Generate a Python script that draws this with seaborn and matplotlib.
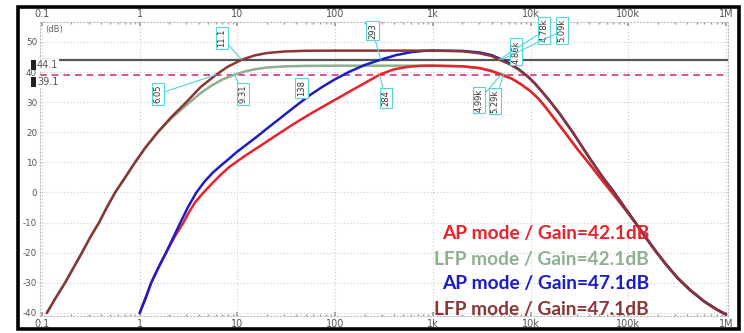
import numpy as np
import pandas as pd
import matplotlib
matplotlib.use("Agg")
import matplotlib.pyplot as plt
import matplotlib.patches as mpatches
import seaborn as sns

# ---------------- data ----------------
lfp47_f = [0.112, 0.138, 0.172, 0.21, 0.256, 0.31, 0.383, 0.46, 0.56, 0.71, 0.895, 1.15, 1.53, 2.1, 3.0, 4.2,
           6.05, 8.0, 11.1, 15, 20, 30, 50, 100, 1000, 2000, 3000, 4000, 4780, 6000, 7500, 9300, 11000, 13000,
           15900, 20000, 27000, 34000, 43000, 55000, 72000, 92000, 118000, 150000, 190000, 245000, 320000,
           430000, 600000, 800000, 1000000]
lfp47_db = [-40, -35, -30, -25, -20, -15, -10, -5, 0, 5, 10, 15, 20, 25, 30, 35,
            39.1, 41.8, 44.1, 45.5, 46.3, 46.8, 47.05, 47.1, 47.1, 46.9, 46.2, 45.3, 44.1, 42.7, 40.9, 38.6, 36.3, 33.6,
            30.2, 26.0, 20.0, 15.0, 10.0, 5.0, 0.0, -5.0, -10.0, -14.8, -19.4, -24.0, -28.4,
            -32.4, -36.2, -38.8, -40.5]

lfp42_f = [0.112, 0.138, 0.172, 0.21, 0.256, 0.31, 0.383, 0.46, 0.56, 0.71, 0.895, 1.15, 1.53, 2.1, 3.0, 4.2,
           5.5, 7.0, 9.31, 12, 15, 20, 30, 50, 100, 1000, 2000, 3000, 4000, 5290, 6500, 8000, 10000, 12000,
           14500, 18000, 23000, 30000, 40000, 52000, 68000, 90000, 118000, 150000, 190000, 245000, 320000,
           430000, 600000, 800000, 1000000]
lfp42_db = [-40, -35, -30, -25, -20, -15, -10, -5, 0, 5, 10, 15, 20, 24.6, 29.0, 33.0,
            35.6, 37.5, 39.1, 40.2, 40.9, 41.5, 41.85, 42.03, 42.1, 42.1, 41.9, 41.3, 40.4, 39.1, 37.7, 35.9, 33.6, 31.2,
            28.0, 24.0, 19.5, 14.5, 9.5, 4.7, 0.0, -5.0, -10.0, -14.8, -19.4, -24.0, -28.4,
            -32.4, -36.2, -38.8, -40.5]

ap47_f = [1.0, 1.15, 1.31, 1.55, 1.86, 2.2, 2.61, 3.1, 3.8, 4.6, 5.6, 6.8, 8.2, 10, 12.5, 15.5, 20, 27, 37, 55,
          75, 100, 140, 200, 293, 420, 600, 800, 1000, 2000, 3000, 4000, 5090, 6000, 7500, 9300, 11000, 13000,
          15900, 20000, 27000, 34000, 43000, 55000, 72000, 92000, 118000, 150000, 190000, 245000, 320000,
          430000, 600000, 800000, 1000000]
ap47_db = [-40, -35, -30, -25, -20, -15, -10, -5, 0, 3.6, 6.6, 9.0, 11.2, 13.6, 16.0, 18.3, 21.2, 24.5, 28.0, 32.3,
           35.2, 37.6, 40.1, 42.3, 44.1, 45.6, 46.6, 47.0, 47.1, 47.0, 46.5, 45.6, 44.1, 43.0, 41.0, 38.6, 36.3, 33.6,
           30.2, 26.0, 20.0, 15.0, 10.0, 5.0, 0.0, -5.0, -10.0, -14.8, -19.4, -24.0, -28.4,
           -32.4, -36.2, -38.8, -40.5]

ap42_f = [1.0, 1.15, 1.31, 1.55, 1.86, 2.25, 2.8, 3.2, 3.7, 4.5, 5.5, 6.7, 8.2, 10, 12.5, 17, 25, 37, 55, 75,
          100, 140, 200, 284, 400, 550, 750, 1000, 2000, 3000, 4000, 4990, 6500, 8000, 10000, 12000,
          14500, 18000, 23000, 30000, 40000, 52000, 68000, 90000, 118000, 150000, 190000, 245000, 320000,
          430000, 600000, 800000, 1000000]
ap42_db = [-40, -35, -30, -25, -20, -15, -10, -6.5, -3.2, 0, 3.0, 5.8, 8.4, 10.4, 12.6, 15.4, 19.0, 22.6, 26.0, 28.5,
           30.8, 33.5, 36.3, 39.1, 40.9, 41.7, 42.05, 42.1, 41.9, 41.3, 40.3, 39.1, 37.7, 35.9, 33.6, 31.2,
           28.0, 24.0, 19.5, 14.5, 9.5, 4.7, 0.0, -5.0, -10.0, -14.8, -19.4, -24.0, -28.4,
           -32.4, -36.2, -38.8, -40.5]

level_hi = 44.1
level_lo = 39.1

xtick_vals = [0.1, 1, 10, 100, 1000, 10000, 100000, 1000000]
xtick_labels = ["0.1", "1", "10", "100", "1k", "10k", "100k", "1M"]
ytick_vals = [50, 40, 30, 20, 10, 0, -10, -20, -30, -40]

marker_texts = ["11.1", "6.05", "9.31", "138", "293", "284", "4.99k", "5.29k", "4.86k", "4.78k", "5.09k"]
marker_pts = [(11.1, 44.1), (6.05, 39.1), (9.31, 39.1), None, (293, 44.1), (284, 39.1),
              (4990, 39.1), (5290, 39.1), None, (4780, 44.1), (5090, 44.1)]
marker_txt_pos = [(6.95, 51.3), (1.54, 32.7), (11.4, 32.7), (45.4, 34.7), (242, 53.7), (329, 31.4),
                  (2972, 30.7), (4335, 30.4), (7100, 46.7), (13700, 53.7), (21000, 53.7)]

legend_texts = ["AP mode / Gain=42.1dB", "LFP mode / Gain=42.1dB", "AP mode / Gain=47.1dB", "LFP mode / Gain=47.1dB"]

# ---------------- style ----------------
sns.set_theme(style="white")
plt.rcParams['font.family'] = ['DejaVu Sans']
plt.rcParams['axes.unicode_minus'] = False

c_red = "#e8222a"
c_green = "#8fb08f"
c_blue = "#1c1cc8"
c_brown = "#8b3535"
legend_colors = [c_red, c_green, c_blue, c_brown]

W, H = 744, 333
fig = plt.figure(figsize=(W / 100, H / 100), dpi=100)
ax = fig.add_axes([40 / W, 1 - 316 / H, (728 - 40) / W, (316 - 22) / H])

series = [(lfp42_f, lfp42_db, c_green), (ap42_f, ap42_db, c_red),
          (ap47_f, ap47_db, c_blue), (lfp47_f, lfp47_db, c_brown)]
for f, d, c in series:
    df = pd.DataFrame({"f": f, "db": d})
    sns.lineplot(data=df, x="f", y="db", ax=ax, color=c, lw=1.8, sort=False, estimator=None)

ax.set_xscale("log")
ax.set_xlim(10 ** (-1 - 2 / 97.7), 10 ** (6 + 2 / 97.7))
ax.set_ylim(-41.0, 56.6)

ax.axhline(level_hi, color="#555555", lw=1.6, zorder=1)
ax.axhline(level_lo, color="#d63384", lw=1.2, ls=(0, (4, 3)), zorder=1)

ax.set_xticks(xtick_vals)
ax.set_xticklabels(xtick_labels)
ax.set_yticks(ytick_vals)
ax.set_yticklabels([str(v) for v in ytick_vals])
ax.tick_params(axis="x", which="both", top=True, bottom=True, labeltop=True, labelbottom=True,
               direction="in", length=3, color="#999999", labelsize=7, labelcolor="#555555", pad=2)
ax.tick_params(axis="x", which="minor", length=1.5)
ax.tick_params(axis="y", length=0, labelsize=6.3, labelcolor="#555555", pad=2)
ax.grid(True, which="major", color="#cccccc", ls=(0, (1, 2)), lw=0.8)
ax.set_xlabel("")
ax.set_ylabel("")
for s in ax.spines.values():
    s.set_color("#bbbbbb")
    s.set_linewidth(0.8)
    s.set_linestyle((0, (1, 2)))

ax.text(0.107, 54.0, "(dB)", fontsize=6, color="#666666", ha="left", va="center")

# marker labels
for t, p, tp in zip(marker_texts, marker_pts, marker_txt_pos):
    bb = dict(boxstyle="square,pad=0.2", fc="white", ec="#55d5d5", lw=0.8)
    if p is None:
        ax.text(tp[0], tp[1], t, rotation=90, fontsize=6, color="#333333", ha="center", va="center",
                bbox=bb, zorder=6)
    else:
        ax.annotate(t, xy=p, xytext=tp, rotation=90, fontsize=6, color="#333333", ha="center", va="center",
                    bbox=bb, zorder=6,
                    arrowprops=dict(arrowstyle="-", color="#55d5d5", lw=0.8, shrinkA=0, shrinkB=0))

# level labels on the left
for lv, ypx in [(level_hi, 65), (level_lo, 82)]:
    fig.patches.append(mpatches.Rectangle((31 / W, 1 - (ypx + 5) / H), 5 / W, 10 / H,
                                          transform=fig.transFigure, fc="#222222", ec="none", zorder=10))
    fig.text(37 / W, 1 - ypx / H, f"{lv}", fontsize=7, color="#555555", ha="left", va="center",
             bbox=dict(boxstyle="square,pad=0.1", fc="white", ec="none"), zorder=10)

# legend text
for i, (t, c) in enumerate(zip(legend_texts, legend_colors)):
    ax.text(649 / W, 1 - (234 + 25 * i) / H, t, transform=fig.transFigure, color=c, fontsize=13.8,
            fontweight="bold", family=["Lato", "DejaVu Sans"], ha="right", va="center", zorder=7)

# outer frame
fig.patches.append(mpatches.Rectangle((18 / W, 1 - 329 / H), (739 - 18) / W, (329 - 7) / H,
                                      transform=fig.transFigure, fill=False, ec="black", lw=2.6, zorder=20))

fig.savefig("out.png", dpi=100)
